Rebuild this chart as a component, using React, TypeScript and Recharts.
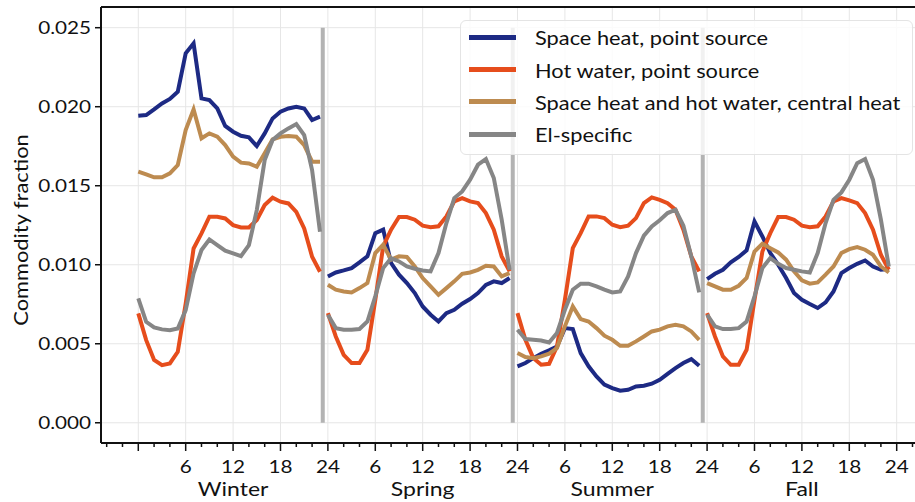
import {
	CartesianGrid,
	Legend,
	Line,
	LineChart,
	ReferenceLine,
	XAxis,
	YAxis,
} from "recharts";

const FONT = "Lato, 'Open Sans', sans-serif";
const SX = 1.15; // text in the reference is drawn a bit wide
const LEGEND_SX = 1.09;

const seasons = ["Winter", "Spring", "Summer", "Fall"];
const hours = [0, 1, 2, 3, 4, 5, 6, 7, 8, 9, 10, 11, 12, 13, 14, 15, 16, 17, 18, 19, 20, 21, 22, 23];

// one list per season (Winter, Spring, Summer, Fall), 24 hourly values each
const spaceHeat = [
	[0.01943, 0.01947, 0.01983, 0.02021, 0.02049, 0.02095, 0.02338, 0.02401, 0.02053, 0.02042, 0.01989, 0.01878, 0.01842, 0.01816, 0.01806, 0.01751, 0.01831, 0.01926, 0.01968, 0.01989, 0.02, 0.01989, 0.01916, 0.01937],
	[0.00926, 0.00951, 0.00964, 0.00979, 0.01015, 0.01053, 0.012, 0.01222, 0.01011, 0.00937, 0.00884, 0.00821, 0.00736, 0.00684, 0.00641, 0.00694, 0.00715, 0.00753, 0.00783, 0.00821, 0.00873, 0.00895, 0.00884, 0.00916],
	[0.00357, 0.00378, 0.00409, 0.00437, 0.00458, 0.00483, 0.00599, 0.00593, 0.00441, 0.00357, 0.00293, 0.00241, 0.00219, 0.00203, 0.00209, 0.0023, 0.00234, 0.00247, 0.00272, 0.0031, 0.00346, 0.00378, 0.00403, 0.00361],
	[0.00909, 0.00943, 0.00968, 0.01015, 0.01049, 0.01091, 0.01274, 0.01179, 0.01074, 0.01, 0.00916, 0.00821, 0.00778, 0.00751, 0.00726, 0.00762, 0.00831, 0.00947, 0.00979, 0.01006, 0.01027, 0.00989, 0.00968, 0.00973],
];
const hotWater = [
	[0.00692, 0.00523, 0.00397, 0.00365, 0.00376, 0.00449, 0.00755, 0.01103, 0.01198, 0.01304, 0.01304, 0.01293, 0.01251, 0.01236, 0.01236, 0.01283, 0.01378, 0.01424, 0.01399, 0.01388, 0.01335, 0.0123, 0.01051, 0.00956],
	[0.00694, 0.00546, 0.0043, 0.00378, 0.00378, 0.00462, 0.00778, 0.01116, 0.01222, 0.01302, 0.01302, 0.01285, 0.01247, 0.01238, 0.01243, 0.01306, 0.01401, 0.01422, 0.01401, 0.0139, 0.01327, 0.01222, 0.01053, 0.00958],
	[0.00694, 0.00525, 0.00409, 0.00367, 0.00373, 0.00483, 0.00778, 0.01105, 0.012, 0.01306, 0.01306, 0.01295, 0.01253, 0.01238, 0.01247, 0.01295, 0.0139, 0.01426, 0.01411, 0.0139, 0.01348, 0.01222, 0.01053, 0.00958],
	[0.00694, 0.00546, 0.0042, 0.00367, 0.00367, 0.00462, 0.00778, 0.01084, 0.012, 0.01302, 0.01302, 0.01285, 0.01247, 0.01238, 0.01243, 0.01306, 0.01401, 0.01422, 0.01407, 0.0139, 0.01327, 0.01222, 0.01063, 0.00968],
];
const centralHeat = [
	[0.01589, 0.01572, 0.01553, 0.01553, 0.01578, 0.01631, 0.01852, 0.01983, 0.018, 0.01831, 0.0181, 0.01757, 0.01684, 0.01646, 0.01641, 0.0162, 0.01705, 0.01793, 0.0181, 0.01814, 0.0181, 0.01757, 0.01652, 0.01652],
	[0.00873, 0.00842, 0.00831, 0.00825, 0.00852, 0.00884, 0.01074, 0.01127, 0.01032, 0.01053, 0.01049, 0.00989, 0.00916, 0.00863, 0.0081, 0.00852, 0.00895, 0.00943, 0.00951, 0.00968, 0.00994, 0.00989, 0.00926, 0.00947],
	[0.00441, 0.00416, 0.00409, 0.0042, 0.00437, 0.00473, 0.0061, 0.00736, 0.00656, 0.00641, 0.00599, 0.00551, 0.00525, 0.00487, 0.00487, 0.00515, 0.00546, 0.00578, 0.00589, 0.0061, 0.0062, 0.0061, 0.00578, 0.00525],
	[0.00884, 0.00863, 0.00842, 0.00842, 0.00867, 0.00916, 0.01084, 0.01133, 0.01105, 0.01078, 0.01032, 0.00958, 0.00901, 0.0088, 0.00888, 0.00937, 0.00989, 0.01074, 0.01099, 0.01112, 0.01095, 0.01063, 0.00989, 0.00951],
];
const elSpecific = [
	[0.00787, 0.00639, 0.00603, 0.00591, 0.00586, 0.00597, 0.00713, 0.00945, 0.01093, 0.0116, 0.01124, 0.01089, 0.01072, 0.01055, 0.01124, 0.01346, 0.01662, 0.01789, 0.01831, 0.01863, 0.0189, 0.01821, 0.01599, 0.01209],
	[0.00684, 0.00599, 0.00589, 0.00589, 0.00593, 0.00641, 0.008, 0.00979, 0.01042, 0.01021, 0.00989, 0.00975, 0.00964, 0.00958, 0.01074, 0.01264, 0.01422, 0.01464, 0.01538, 0.01633, 0.01669, 0.01549, 0.01285, 0.00968],
	[0.00589, 0.0053, 0.00525, 0.00521, 0.00508, 0.00568, 0.00715, 0.00842, 0.0088, 0.0088, 0.00863, 0.00842, 0.00825, 0.00831, 0.00926, 0.01074, 0.01184, 0.01243, 0.01281, 0.01327, 0.01348, 0.01247, 0.01053, 0.00825],
	[0.00684, 0.0061, 0.00593, 0.00593, 0.00599, 0.00641, 0.008, 0.00979, 0.01042, 0.01006, 0.00979, 0.00968, 0.00958, 0.00951, 0.01074, 0.01264, 0.01411, 0.01458, 0.01538, 0.01643, 0.01669, 0.01538, 0.01285, 0.00989],
];

const seriesKeys = ["spaceHeat", "hotWater", "centralHeat", "elSpecific"];
const seriesNames = [
	"Space heat, point source",
	"Hot water, point source",
	"Space heat and hot water, central heat",
	"El-specific",
];
const seriesColors = ["#1d2a84", "#e64d1c", "#bd8b50", "#868686"];
const seriesValues = [spaceHeat, hotWater, centralHeat, elSpecific];

const yTicks = [0, 0.005, 0.01, 0.015, 0.02, 0.025];
const hourTicks = [-4, -2, 0, 2, 4, 6, 8, 10, 12, 14, 16, 18, 20, 22, 24, 26, 28, 30, 32, 34, 36, 38, 40, 42, 44, 46, 48, 50, 52, 54, 56, 58, 60, 62, 64, 66, 68, 70, 72, 74, 76, 78, 80, 82, 84, 86, 88, 90, 92, 94, 96, 98];
const gridHours = [0, 6, 12, 18, 24, 30, 36, 42, 48, 54, 60, 66, 72, 78, 84, 90, 96];
const seasonCenters = [12, 36, 60, 84];
const dividers = [23.35, 47.4, 71.45];

const X_DOMAIN: [number, number] = [-4.72, 98.57];
const Y_DOMAIN: [number, number] = [-0.00128, 0.02631];

type Row = { x: number; [key: string]: number | null };

const rows: Row[] = [];
seasons.forEach((_, s) => {
	hours.forEach((h, i) => {
		const row: Row = { x: s * 24 + h };
		seriesKeys.forEach((k, j) => {
			row[k] = seriesValues[j][s][i];
		});
		rows.push(row);
	});
	// break the lines between seasons
	if (s < seasons.length - 1) {
		const gap: Row = { x: s * 24 + 23.6 };
		seriesKeys.forEach((k) => {
			gap[k] = null;
		});
		rows.push(gap);
	}
});

function YTick({ x, y, payload }: any) {
	return (
		<text
			transform={`translate(${x},${y}) scale(${SX},1)`}
			textAnchor="end"
			dy="0.36em"
			fontSize={18}
			fontFamily={FONT}
			fill="#111"
		>
			{Number(payload.value).toFixed(3)}
		</text>
	);
}

function HourTick({ x, y, payload }: any) {
	const v = Math.round(payload.value);
	const major = v % 6 === 0;
	const label = major && v > 0 ? String(v % 24 === 0 ? 24 : v % 24) : "";
	return (
		<g>
			<line x1={x} x2={x} y1={y} y2={y + (major ? 8 : 4)} stroke="#111" strokeWidth={1.5} />
			{label && (
				<text
					transform={`translate(${x},${y + 30}) scale(${SX},1)`}
					textAnchor="middle"
					fontSize={18}
					fontFamily={FONT}
					fill="#111"
				>
					{label}
				</text>
			)}
		</g>
	);
}

function SeasonTick({ x, y, payload }: any) {
	return (
		<text
			transform={`translate(${x},${y + 21}) scale(${SX},1)`}
			textAnchor="middle"
			fontSize={20}
			fontFamily={FONT}
			fill="#111"
		>
			{seasons[seasonCenters.indexOf(payload.value)]}
		</text>
	);
}

function YLabel({ viewBox }: any) {
	const cx = viewBox.x + 28;
	const cy = viewBox.y + viewBox.height / 2 + 5;
	return (
		<text
			transform={`translate(${cx},${cy}) rotate(-90) scale(${SX},1)`}
			textAnchor="middle"
			fontSize={19}
			fontFamily={FONT}
			fill="#111"
		>
			Commodity fraction
		</text>
	);
}

function LegendBox() {
	return (
		<div
			style={{
				boxSizing: "border-box",
				width: 453,
				height: 135,
				background: "rgba(255,255,255,0.82)",
				border: "1px solid #e4e4e4",
				borderRadius: 6,
				fontFamily: FONT,
			}}
		>
			{seriesNames.map((name, i) => (
				<div
					key={name}
					style={{ display: "flex", alignItems: "center", height: 32.4 }}
				>
					<span
						style={{ width: 47, height: 5, marginLeft: 8, background: seriesColors[i], flex: "none" }}
					/>
					<span
						style={{
							marginLeft: 19,
							fontSize: 20,
							color: "#111",
							whiteSpace: "nowrap",
							display: "inline-block",
							transform: `scaleX(${LEGEND_SX})`,
							transformOrigin: "left center",
						}}
					>
						{name}
					</span>
				</div>
			))}
		</div>
	);
}

export default function App() {
	return (
		<div
			style={{
				position: "absolute",
				left: 0,
				top: 0,
				width: 915,
				height: 502,
				overflow: "hidden",
				background: "#fff",
			}}
		>
			<LineChart
				width={925}
				height={502}
				data={rows}
				margin={{ top: 7, right: 8, bottom: 0, left: 0 }}
			>
				<CartesianGrid
					stroke="#e6e6e6"
					strokeWidth={1}
					verticalValues={gridHours}
					horizontalValues={yTicks}
				/>
				<XAxis
					dataKey="x"
					type="number"
					domain={X_DOMAIN}
					ticks={hourTicks}
					interval={0}
					height={32}
					tickSize={0}
					tickMargin={0}
					tickLine={false}
					tick={<HourTick />}
					axisLine={{ stroke: "#111", strokeWidth: 2 }}
				/>
				<XAxis
					xAxisId="season"
					dataKey="x"
					type="number"
					domain={X_DOMAIN}
					ticks={seasonCenters}
					interval={0}
					height={27}
					tickSize={0}
					tickMargin={0}
					tickLine={false}
					axisLine={false}
					tick={<SeasonTick />}
				/>
				<YAxis
					type="number"
					domain={Y_DOMAIN}
					ticks={yTicks}
					interval={0}
					width={101}
					tickSize={6}
					tickMargin={4}
					tick={<YTick />}
					tickLine={{ stroke: "#111", strokeWidth: 1.5 }}
					axisLine={{ stroke: "#111", strokeWidth: 2 }}
					label={<YLabel />}
				/>
				<ReferenceLine y={Y_DOMAIN[1]} stroke="#111" strokeWidth={2} />
				{dividers.map((d) => (
					<ReferenceLine
						key={d}
						segment={[
							{ x: d, y: 0 },
							{ x: d, y: 0.025 },
						]}
						stroke="#b3b3b3"
						strokeWidth={4}
					/>
				))}
				{seriesKeys.map((k, i) => (
					<Line
						key={k}
						dataKey={k}
						name={seriesNames[i]}
						type="linear"
						stroke={seriesColors[i]}
						strokeWidth={4}
						dot={false}
						activeDot={false}
						connectNulls={false}
						isAnimationActive={false}
					/>
				))}
				<Legend
					layout="vertical"
					align="center"
					verticalAlign="middle"
					wrapperStyle={{ top: 20, left: 460, width: 453, height: 135 }}
					content={<LegendBox />}
				/>
			</LineChart>
		</div>
	);
}
